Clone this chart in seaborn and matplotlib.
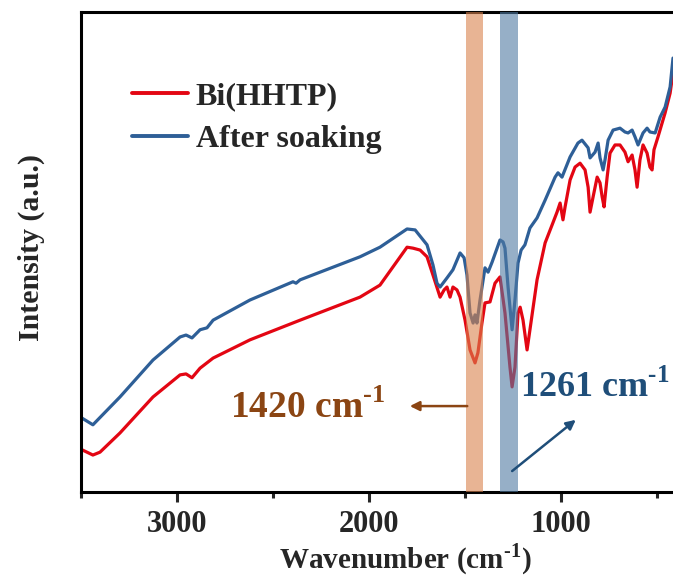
import numpy as np
import pandas as pd
import matplotlib
matplotlib.use('Agg')
import matplotlib.pyplot as plt
from matplotlib.ticker import MultipleLocator
import seaborn as sns

# Wavenumber (cm-1) and intensity (a.u.)
wn_soak = [3495, 3438, 3297, 3125, 2984, 2953, 2922, 2880, 2844, 2812, 2620, 2396, 2380,
           2359, 2047, 1943, 1802, 1760, 1734, 1698, 1667, 1646, 1630, 1594, 1563, 1526,
           1505, 1490, 1474, 1458, 1448, 1438, 1422, 1396, 1380, 1359, 1318, 1302, 1292,
           1276, 1255, 1240, 1224, 1208, 1188, 1162, 1125, 1083, 1031, 1016, 995, 953,
           912, 891, 859, 849, 823, 807, 797, 781, 771, 755, 729, 693, 667, 651, 630, 615,
           599, 573, 552, 537, 510, 484, 458, 432, 417]
int_soak = [15.4, 14.0, 19.8, 27.5, 32.3, 32.7, 32.1, 33.8, 34.2, 35.8, 40.0, 43.8, 43.5,
            44.2, 49.0, 51.0, 54.8, 54.6, 53.3, 51.5, 47.3, 43.5, 42.7, 44.6, 46.3, 49.8,
            48.8, 45.2, 37.3, 35.2, 36.9, 35.2, 40.0, 46.7, 45.8, 47.9, 52.5, 52.1, 50.8,
            42.7, 33.8, 40.0, 47.7, 50.4, 51.5, 55.0, 57.1, 60.8, 65.6, 66.5, 65.6, 69.8,
            72.7, 73.3, 71.7, 69.6, 70.8, 72.7, 69.6, 67.1, 69.2, 73.3, 75.4, 75.8, 75.0,
            74.8, 75.4, 74.0, 72.3, 74.8, 75.8, 75.0, 74.8, 78.1, 80.2, 84.4, 90.4]

wn_bi = [3495, 3438, 3401, 3297, 3125, 2984, 2953, 2922, 2880, 2812, 2620, 2359, 2047,
         1943, 1802, 1771, 1734, 1698, 1667, 1630, 1609, 1594, 1578, 1563, 1542, 1526,
         1500, 1474, 1448, 1433, 1412, 1396, 1370, 1344, 1318, 1292, 1266, 1255, 1240,
         1224, 1213, 1198, 1177, 1162, 1125, 1083, 1047, 1021, 1005, 990, 979, 953, 927,
         901, 875, 859, 849, 833, 812, 797, 786, 776, 760, 745, 719, 693, 667, 651, 630,
         615, 604, 589, 573, 552, 537, 526, 516, 495, 458, 432, 417]
int_bi = [8.8, 7.7, 8.3, 12.3, 19.8, 24.4, 24.6, 23.8, 25.8, 27.9, 31.7, 35.8, 40.6,
          43.1, 51.0, 50.8, 50.4, 49.0, 45.2, 40.6, 42.1, 42.7, 40.6, 42.7, 42.1, 40.6,
          35.8, 29.6, 26.9, 29.0, 35.2, 39.4, 39.6, 43.5, 44.8, 37.3, 26.0, 21.9, 26.0,
          37.3, 38.5, 35.8, 29.6, 33.8, 44.2, 51.9, 55.6, 58.3, 60.2, 56.7, 59.4, 65.0, 67.7,
          68.5, 67.1, 63.5, 58.3, 61.5, 65.6, 64.4, 61.5, 59.4, 65.6, 70.6, 72.3, 72.3, 70.8,
          68.8, 70.2, 67.1, 63.5, 69.2, 72.3, 70.6, 67.7, 67.1, 71.3, 74.0, 79.0, 83.1, 87.3]

# highlighted bands (cm-1)
band_1420 = (1495, 1406)
band_1261 = (1318, 1224)

sns.set_style('ticks')
plt.rcParams['font.family'] = ['Liberation Serif', 'DejaVu Serif']
plt.rcParams['font.weight'] = 'bold'
plt.rcParams['mathtext.fontset'] = 'custom'
plt.rcParams['mathtext.rm'] = 'Liberation Serif:bold'
plt.rcParams['mathtext.bf'] = 'Liberation Serif:bold'

sup = r'$^{\text{-}1}$'

fig = plt.figure(figsize=(6.73, 5.78), dpi=100)
ax = fig.add_axes([81 / 673, 86 / 578, 592 / 673, 480 / 578])

sns.lineplot(x=wn_bi, y=int_bi, sort=False, color='#E30613', lw=2.3, ax=ax, label='Bi(HHTP)')
sns.lineplot(x=wn_soak, y=int_soak, sort=False, color='#2E5F97', lw=2.3, ax=ax, label='After soaking')

# bands drawn over the lines (semi transparent)
ax.axvspan(*band_1420, color='#D9824D', alpha=0.6, lw=0, zorder=3)
ax.axvspan(*band_1261, color='#507AA3', alpha=0.6, lw=0, zorder=3)

ax.annotate('', xy=(1802, 17.9), xytext=(1474, 17.9),
            arrowprops=dict(arrowstyle='-|>', color='#8B4513', lw=1.8, mutation_scale=14))
ax.annotate('', xy=(912, 15.4), xytext=(1266, 4.0),
            arrowprops=dict(arrowstyle='-|>', color='#1F4E79', lw=1.8, mutation_scale=14))
ax.text(2724, 17.5, '1420 cm' + sup, color='#8B4513', fontsize=27,
        fontweight='bold', ha='left', va='center')
ax.text(1214, 21.9, '1261 cm' + sup, color='#1F4E79', fontsize=26,
        fontweight='bold', ha='left', va='center')

ax.set_xlim(3500, 417)
ax.set_ylim(0, 100)
ax.set_yticks([])
ax.xaxis.set_major_locator(MultipleLocator(1000))
ax.xaxis.set_minor_locator(MultipleLocator(500))
ax.tick_params(axis='x', which='major', direction='out', length=7, width=2.2, labelsize=22, pad=6)
ax.tick_params(axis='x', which='minor', direction='out', length=4, width=2.2)
for lab in ax.get_xticklabels():
    lab.set_fontweight('bold')
for side in ['left', 'bottom', 'top']:
    ax.spines[side].set_linewidth(2.2)
    ax.spines[side].set_color('black')
ax.spines['right'].set_visible(False)

ax.set_xlabel('Wavenumber (cm' + sup + ')', fontsize=21, fontweight='bold', labelpad=1.5)
ax.xaxis.label.set_x(0.547)
ax.set_ylabel('Intensity (a.u.)', fontsize=21.5, fontweight='bold', labelpad=26)
ax.yaxis.label.set_y(0.51)

leg = ax.legend(loc='upper left', bbox_to_anchor=(0.086, 0.855), frameon=False,
                prop={'family': 'Liberation Serif', 'weight': 'bold', 'size': 23},
                handlelength=1.75, handletextpad=0.25, labelspacing=0.42,
                borderpad=0, borderaxespad=0)
for line in leg.get_lines():
    line.set_linewidth(2.8)

plt.savefig('out.png', dpi=100)
